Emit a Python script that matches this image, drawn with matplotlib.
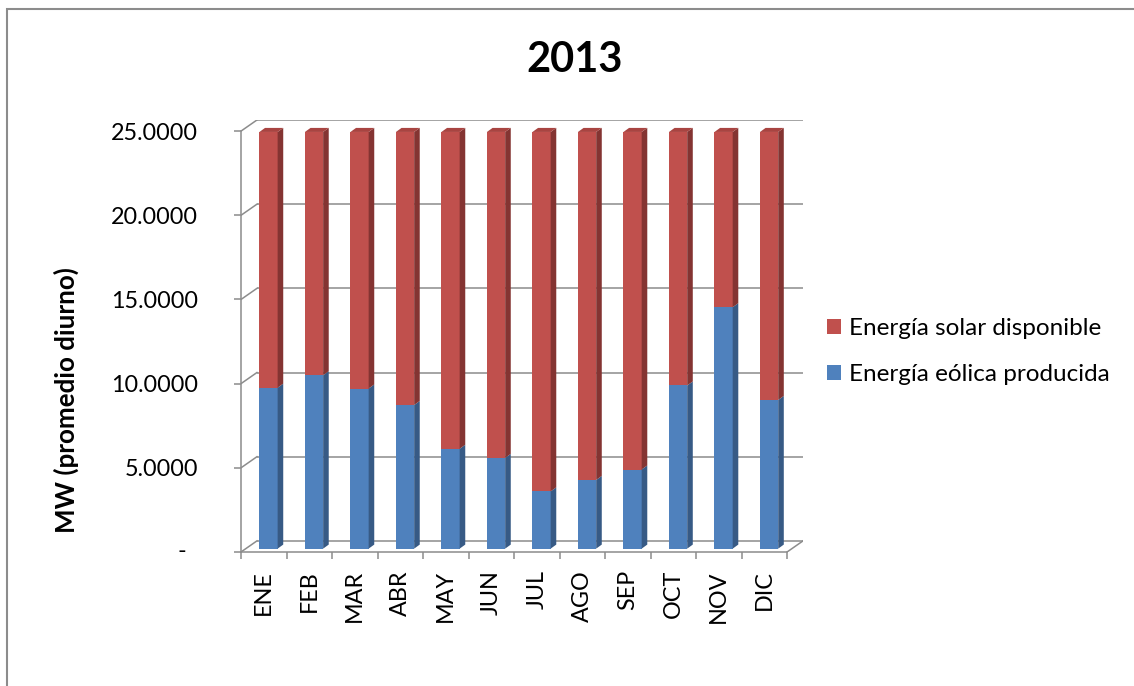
import numpy as np
import matplotlib
matplotlib.use("Agg")
import matplotlib.pyplot as plt
from matplotlib.patches import Polygon, Rectangle, Patch

# Monthly daytime-average power, 2013 (MW)
months = ['ENE', 'FEB', 'MAR', 'ABR', 'MAY', 'JUN',
          'JUL', 'AGO', 'SEP', 'OCT', 'NOV', 'DIC']
eolica = [9.56, 10.30, 9.51, 8.53, 5.93, 5.39, 3.40, 4.08, 4.70, 9.69, 14.34, 8.83]
solar = [15.19, 14.45, 15.24, 16.22, 18.82, 19.36, 21.35, 20.67, 20.05, 15.06, 10.41, 15.92]
yticks = [0, 5, 10, 15, 20, 25]
ytick_labels = ['', '5.0000', '10.0000', '15.0000', '20.0000', '25.0000']
series_names = ['Energía solar disponible', 'Energía eólica producida']

plt.rcParams['font.family'] = ['Lato', 'DejaVu Sans']

W, H = 1134, 686
fig = plt.figure(figsize=(W / 100, H / 100), dpi=100)

# oblique "3-D" depth of the plot box, in data units
DX, DY = 0.35, 0.66
# bar placement inside the depth
FX, FY = 0.105, 0.20       # offset of the bar front face
BDX, BDY = 0.123, 0.24     # bar depth
BW = 0.40

grid_c = '#8c8c8c'
red, red_side, red_top = '#C0504D', '#843432', '#A84441'
blue, blue_side = '#4F81BD', '#375A85'

ax = fig.add_axes([241 / W, (H - 552) / H, 562 / W, 432 / H])
ax.set_xlim(-0.5, 11.5 + DX)
ax.set_ylim(0, 25 + DY)
ax.patch.set_visible(False)

n = len(months)
x = np.arange(n)

# back wall gridlines and their diagonals to the front axis
for v in yticks:
    ax.plot([-0.5 + DX, n - 0.5 + DX], [v + DY, v + DY], color=grid_c, lw=1.1,
            zorder=1, solid_capstyle='butt')
    ax.plot([-0.5, -0.5 + DX], [v, v + DY], color=grid_c, lw=1.1, zorder=1)
ax.plot([n - 0.5, n - 0.5 + DX], [0, DY], color=grid_c, lw=1.1, zorder=1)

# stacked bars (front faces)
eol = np.array(eolica)
sol = np.array(solar)
ax.bar(x + FX, eol, bottom=FY, width=BW, color=blue, zorder=3, linewidth=0)
ax.bar(x + FX, sol, bottom=FY + eol, width=BW, color=red, zorder=3, linewidth=0)

# side and top faces
for i in range(n):
    xl = x[i] + FX - BW / 2
    xr = xl + BW
    y0, y1, y2 = FY, FY + eol[i], FY + eol[i] + sol[i]
    for ya, yb, c in [(y0, y1, blue_side), (y1, y2, red_side)]:
        ax.add_patch(Polygon([(xr, ya), (xr + BDX, ya + BDY), (xr + BDX, yb + BDY), (xr, yb)],
                             closed=True, fc=c, ec='none', zorder=3))
    ax.add_patch(Polygon([(xl, y2), (xl + BDX, y2 + BDY), (xr + BDX, y2 + BDY), (xr, y2)],
                         closed=True, fc=red_top, ec='none', zorder=3))

# axes lines
for s in ['top', 'right']:
    ax.spines[s].set_visible(False)
ax.spines['left'].set_bounds(0, 25)
ax.spines['bottom'].set_bounds(-0.5, n - 0.5)
for s in ['left', 'bottom']:
    ax.spines[s].set_color(grid_c)
    ax.spines[s].set_linewidth(1.1)

ax.set_yticks(yticks)
ax.set_yticklabels(ytick_labels)
ax.tick_params(axis='y', direction='out', length=5, width=1.1, color=grid_c,
               pad=26, labelsize=16.8, labelcolor='black')
ax.annotate('-', xy=(-0.5, 0), xytext=(-39.6, 0), textcoords='offset points',
            ha='right', va='center', fontsize=16.8, annotation_clip=False)

ax.set_xticks(np.arange(-0.5, n, 1.0))
ax.set_xticklabels([])
ax.tick_params(axis='x', which='major', direction='out', length=5, width=1.1, color=grid_c)
ax.set_xticks(x, minor=True)
ax.set_xticklabels(months, minor=True, rotation=90)
ax.tick_params(axis='x', which='minor', length=0, pad=13, labelsize=16.8)

# title and axis label
fig.text(575 / W, 1 - 60 / H, '2013', fontsize=30, fontweight='bold',
         ha='center', va='center')
fig.text(66 / W, 1 - 400 / H, 'MW (promedio diurno)', fontsize=18.7,
         fontweight='bold', rotation=90, ha='center', va='center')

# legend
handles = [Patch(facecolor=red, edgecolor='none'), Patch(facecolor=blue, edgecolor='none')]
fig.legend(handles, series_names, loc='center left',
           bbox_to_anchor=(827 / W, 1 - 351.5 / H), frameon=False, fontsize=17.5,
           handlelength=0.58, handleheight=0.58, handletextpad=0.33,
           labelspacing=1.02, borderpad=0, borderaxespad=0)

# chart area border
fig.patches.append(Rectangle((7 / W, -0.1), 1.2, (H - 9) / H + 0.1,
                             transform=fig.transFigure, fill=False,
                             ec=grid_c, lw=1.5))

fig.savefig('out.png', dpi=100)
